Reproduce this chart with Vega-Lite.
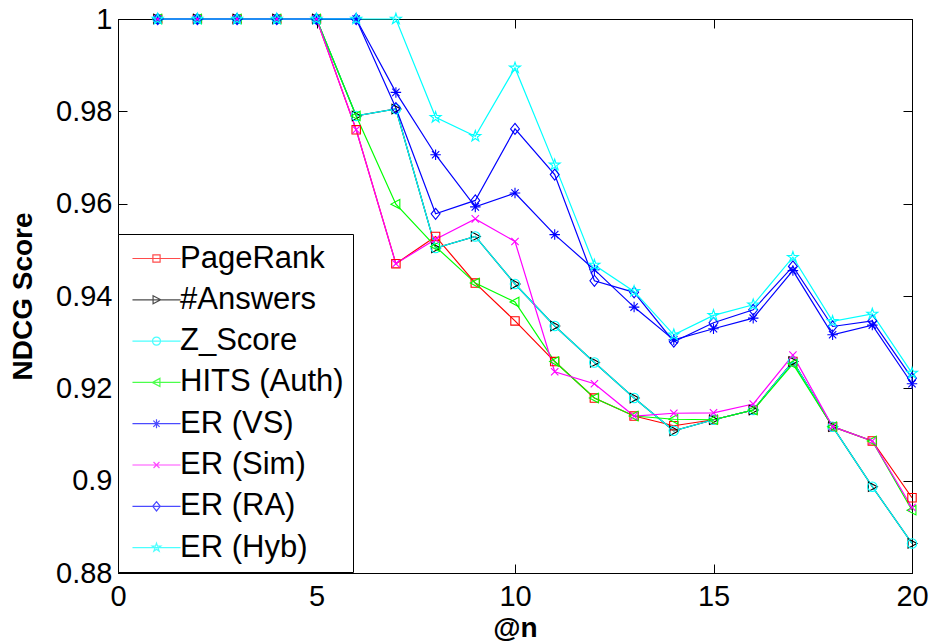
{
  "$schema": "https://vega.github.io/schema/vega-lite/v6.json",
  "autosize": "none",
  "width": 794,
  "height": 554,
  "padding": {"left": 118, "top": 19, "right": 21, "bottom": 69},
  "background": "white",
  "config": {
    "view": {"stroke": "black", "strokeWidth": 1},
    "font": "Liberation Sans",
    "axis": {
      "grid": false,
      "domainColor": "black",
      "domainWidth": 1,
      "tickColor": "black",
      "tickWidth": 1,
      "tickSize": -9,
      "labelFont": "Liberation Sans",
      "labelFontSize": 29,
      "labelColor": "black",
      "titleFont": "Liberation Sans",
      "titleFontSize": 28,
      "titleFontWeight": "bold",
      "titleColor": "black"
    }
  },
  "data": {"values": [
    {"n":1,"s":"PageRank","v":1},{"n":2,"s":"PageRank","v":1},{"n":3,"s":"PageRank","v":1},{"n":4,"s":"PageRank","v":1},{"n":5,"s":"PageRank","v":1},
    {"n":6,"s":"PageRank","v":0.976},{"n":7,"s":"PageRank","v":0.947},{"n":8,"s":"PageRank","v":0.9529},{"n":9,"s":"PageRank","v":0.9428},{"n":10,"s":"PageRank","v":0.9346},
    {"n":11,"s":"PageRank","v":0.9258},{"n":12,"s":"PageRank","v":0.9179},{"n":13,"s":"PageRank","v":0.914},{"n":14,"s":"PageRank","v":0.9119},{"n":15,"s":"PageRank","v":0.9132},
    {"n":16,"s":"PageRank","v":0.9153},{"n":17,"s":"PageRank","v":0.9258},{"n":18,"s":"PageRank","v":0.9117},{"n":19,"s":"PageRank","v":0.9086},{"n":20,"s":"PageRank","v":0.8963},

    {"n":1,"s":"#Answers","v":1},{"n":2,"s":"#Answers","v":1},{"n":3,"s":"#Answers","v":1},{"n":4,"s":"#Answers","v":1},{"n":5,"s":"#Answers","v":1},
    {"n":6,"s":"#Answers","v":0.979},{"n":7,"s":"#Answers","v":0.9805},{"n":8,"s":"#Answers","v":0.9504},{"n":9,"s":"#Answers","v":0.9529},{"n":10,"s":"#Answers","v":0.9426},
    {"n":11,"s":"#Answers","v":0.9335},{"n":12,"s":"#Answers","v":0.9256},{"n":13,"s":"#Answers","v":0.9179},{"n":14,"s":"#Answers","v":0.9108},{"n":15,"s":"#Answers","v":0.9132},
    {"n":16,"s":"#Answers","v":0.9153},{"n":17,"s":"#Answers","v":0.9258},{"n":18,"s":"#Answers","v":0.9117},{"n":19,"s":"#Answers","v":0.8987},{"n":20,"s":"#Answers","v":0.8864},

    {"n":1,"s":"Z_Score","v":1},{"n":2,"s":"Z_Score","v":1},{"n":3,"s":"Z_Score","v":1},{"n":4,"s":"Z_Score","v":1},{"n":5,"s":"Z_Score","v":1},
    {"n":6,"s":"Z_Score","v":0.979},{"n":7,"s":"Z_Score","v":0.9805},{"n":8,"s":"Z_Score","v":0.9504},{"n":9,"s":"Z_Score","v":0.9529},{"n":10,"s":"Z_Score","v":0.9426},
    {"n":11,"s":"Z_Score","v":0.9335},{"n":12,"s":"Z_Score","v":0.9256},{"n":13,"s":"Z_Score","v":0.9179},{"n":14,"s":"Z_Score","v":0.9108},{"n":15,"s":"Z_Score","v":0.9132},
    {"n":16,"s":"Z_Score","v":0.9153},{"n":17,"s":"Z_Score","v":0.9258},{"n":18,"s":"Z_Score","v":0.9117},{"n":19,"s":"Z_Score","v":0.8987},{"n":20,"s":"Z_Score","v":0.8864},

    {"n":1,"s":"HITS (Auth)","v":1},{"n":2,"s":"HITS (Auth)","v":1},{"n":3,"s":"HITS (Auth)","v":1},{"n":4,"s":"HITS (Auth)","v":1},{"n":5,"s":"HITS (Auth)","v":1},
    {"n":6,"s":"HITS (Auth)","v":0.979},{"n":7,"s":"HITS (Auth)","v":0.9599},{"n":8,"s":"HITS (Auth)","v":0.9507},{"n":9,"s":"HITS (Auth)","v":0.9428},{"n":10,"s":"HITS (Auth)","v":0.9387},
    {"n":11,"s":"HITS (Auth)","v":0.9258},{"n":12,"s":"HITS (Auth)","v":0.9179},{"n":13,"s":"HITS (Auth)","v":0.914},{"n":14,"s":"HITS (Auth)","v":0.9133},{"n":15,"s":"HITS (Auth)","v":0.9132},
    {"n":16,"s":"HITS (Auth)","v":0.9153},{"n":17,"s":"HITS (Auth)","v":0.9253},{"n":18,"s":"HITS (Auth)","v":0.9117},{"n":19,"s":"HITS (Auth)","v":0.9086},{"n":20,"s":"HITS (Auth)","v":0.8936},

    {"n":1,"s":"ER (VS)","v":1},{"n":2,"s":"ER (VS)","v":1},{"n":3,"s":"ER (VS)","v":1},{"n":4,"s":"ER (VS)","v":1},{"n":5,"s":"ER (VS)","v":1},
    {"n":6,"s":"ER (VS)","v":1},{"n":7,"s":"ER (VS)","v":0.9841},{"n":8,"s":"ER (VS)","v":0.9706},{"n":9,"s":"ER (VS)","v":0.9593},{"n":10,"s":"ER (VS)","v":0.9623},
    {"n":11,"s":"ER (VS)","v":0.9533},{"n":12,"s":"ER (VS)","v":0.9457},{"n":13,"s":"ER (VS)","v":0.9376},{"n":14,"s":"ER (VS)","v":0.9305},{"n":15,"s":"ER (VS)","v":0.9329},
    {"n":16,"s":"ER (VS)","v":0.9352},{"n":17,"s":"ER (VS)","v":0.9455},{"n":18,"s":"ER (VS)","v":0.9316},{"n":19,"s":"ER (VS)","v":0.9337},{"n":20,"s":"ER (VS)","v":0.921},

    {"n":1,"s":"ER (Sim)","v":1},{"n":2,"s":"ER (Sim)","v":1},{"n":3,"s":"ER (Sim)","v":1},{"n":4,"s":"ER (Sim)","v":1},{"n":5,"s":"ER (Sim)","v":1},
    {"n":6,"s":"ER (Sim)","v":0.976},{"n":7,"s":"ER (Sim)","v":0.947},{"n":8,"s":"ER (Sim)","v":0.9523},{"n":9,"s":"ER (Sim)","v":0.9567},{"n":10,"s":"ER (Sim)","v":0.9518},
    {"n":11,"s":"ER (Sim)","v":0.9236},{"n":12,"s":"ER (Sim)","v":0.921},{"n":13,"s":"ER (Sim)","v":0.914},{"n":14,"s":"ER (Sim)","v":0.9146},{"n":15,"s":"ER (Sim)","v":0.9147},
    {"n":16,"s":"ER (Sim)","v":0.9166},{"n":17,"s":"ER (Sim)","v":0.9272},{"n":18,"s":"ER (Sim)","v":0.9117},{"n":19,"s":"ER (Sim)","v":0.9086},{"n":20,"s":"ER (Sim)","v":0.8942},

    {"n":1,"s":"ER (RA)","v":1},{"n":2,"s":"ER (RA)","v":1},{"n":3,"s":"ER (RA)","v":1},{"n":4,"s":"ER (RA)","v":1},{"n":5,"s":"ER (RA)","v":1},
    {"n":6,"s":"ER (RA)","v":1},{"n":7,"s":"ER (RA)","v":0.9807},{"n":8,"s":"ER (RA)","v":0.9578},{"n":9,"s":"ER (RA)","v":0.9607},{"n":10,"s":"ER (RA)","v":0.9762},
    {"n":11,"s":"ER (RA)","v":0.9663},{"n":12,"s":"ER (RA)","v":0.9433},{"n":13,"s":"ER (RA)","v":0.9408},{"n":14,"s":"ER (RA)","v":0.9301},{"n":15,"s":"ER (RA)","v":0.9342},
    {"n":16,"s":"ER (RA)","v":0.937},{"n":17,"s":"ER (RA)","v":0.9464},{"n":18,"s":"ER (RA)","v":0.9334},{"n":19,"s":"ER (RA)","v":0.9346},{"n":20,"s":"ER (RA)","v":0.9222},

    {"n":1,"s":"ER (Hyb)","v":1},{"n":2,"s":"ER (Hyb)","v":1},{"n":3,"s":"ER (Hyb)","v":1},{"n":4,"s":"ER (Hyb)","v":1},{"n":5,"s":"ER (Hyb)","v":1},
    {"n":6,"s":"ER (Hyb)","v":1},{"n":7,"s":"ER (Hyb)","v":1},{"n":8,"s":"ER (Hyb)","v":0.9787},{"n":9,"s":"ER (Hyb)","v":0.9746},{"n":10,"s":"ER (Hyb)","v":0.9894},
    {"n":11,"s":"ER (Hyb)","v":0.9684},{"n":12,"s":"ER (Hyb)","v":0.9467},{"n":13,"s":"ER (Hyb)","v":0.941},{"n":14,"s":"ER (Hyb)","v":0.9316},{"n":15,"s":"ER (Hyb)","v":0.9358},
    {"n":16,"s":"ER (Hyb)","v":0.9381},{"n":17,"s":"ER (Hyb)","v":0.9484},{"n":18,"s":"ER (Hyb)","v":0.9345},{"n":19,"s":"ER (Hyb)","v":0.9361},{"n":20,"s":"ER (Hyb)","v":0.9233}
  ]},
  "resolve": {
    "scale": {"color": "independent", "shape": "independent"},
    "axis": {"x": "independent", "y": "independent"}
  },
  "layer": [
    {
      "mark": {"type": "line", "strokeWidth": 1.2},
      "encoding": {
        "x": {"field": "n", "type": "quantitative",
              "scale": {"domain": [0, 20], "nice": false, "zero": false},
              "axis": {"orient": "bottom", "values": [0, 5, 10, 15, 20], "title": "@n", "labelPadding": 18, "titlePadding": 3, "labelFlush": false}},
        "y": {"field": "v", "type": "quantitative",
              "scale": {"domain": [0.88, 1], "nice": false, "zero": false},
              "axis": {"orient": "left", "values": [0.88, 0.9, 0.92, 0.94, 0.96, 0.98, 1], "format": "~g", "title": "NDCG Score", "labelPadding": 15, "titlePadding": 18, "labelFlush": false}},
        "color": {"field": "s", "type": "nominal", "legend": null,
                  "scale": {"domain": ["PageRank", "#Answers", "Z_Score", "HITS (Auth)", "ER (VS)", "ER (Sim)", "ER (RA)", "ER (Hyb)"],
                            "range": ["#ff0000", "#000000", "#00ffff", "#00ff00", "#0000ff", "#ff00ff", "#0000ff", "#00ffff"]}},
        "order": {"field": "n", "type": "quantitative"}
      }
    },
    {
      "mark": {"type": "point", "filled": false, "size": 110, "strokeWidth": 1.1, "opacity": 1},
      "encoding": {
        "x": {"field": "n", "type": "quantitative",
              "scale": {"domain": [0, 20], "nice": false, "zero": false},
              "axis": {"orient": "top", "values": [0, 5, 10, 15, 20], "labels": false, "title": null}},
        "y": {"field": "v", "type": "quantitative",
              "scale": {"domain": [0.88, 1], "nice": false, "zero": false},
              "axis": {"orient": "right", "values": [0.88, 0.9, 0.92, 0.94, 0.96, 0.98, 1], "labels": false, "title": null}},
        "color": {"field": "s", "type": "nominal", "legend": null,
                  "scale": {"domain": ["PageRank", "#Answers", "Z_Score", "HITS (Auth)", "ER (VS)", "ER (Sim)", "ER (RA)", "ER (Hyb)"],
                            "range": ["#ff0000", "#000000", "#00ffff", "#00ff00", "#0000ff", "#ff00ff", "#0000ff", "#00ffff"]}},
        "shape": {"field": "s", "type": "nominal", "legend": null,
                  "scale": {"domain": ["PageRank", "#Answers", "Z_Score", "HITS (Auth)", "ER (VS)", "ER (Sim)", "ER (RA)", "ER (Hyb)"],
                            "range": [
                              "M-0.8,-0.8L0.8,-0.8L0.8,0.8L-0.8,0.8Z",
                              "M-0.75,-0.9L0.95,0L-0.75,0.9Z",
                              "M0.9,0A0.9,0.9,0,1,1,-0.9,0A0.9,0.9,0,1,1,0.9,0Z",
                              "M0.75,-0.9L-0.95,0L0.75,0.9Z",
                              "M-1,0L1,0M0,-1L0,1M-0.7,-0.7L0.7,0.7M-0.7,0.7L0.7,-0.7",
                              "M-0.7,-0.7L0.7,0.7M-0.7,0.7L0.7,-0.7",
                              "M0,-1.05L0.85,0L0,1.05L-0.85,0Z",
                              "M0,-1.1L0.247,-0.34L1.046,-0.34L0.399,0.13L0.647,0.89L0,0.42L-0.647,0.89L-0.399,0.13L-1.046,-0.34L-0.247,-0.34Z"
                            ]}}
      }
    },
    {
      "transform": [{"filter": "datum.n > 100"}],
      "mark": {"type": "point", "filled": false, "size": 324, "strokeWidth": 1},
      "encoding": {
        "x": {"field": "n", "type": "quantitative", "scale": {"domain": [0, 20], "nice": false, "zero": false}, "axis": null},
        "y": {"field": "v", "type": "quantitative", "scale": {"domain": [0.88, 1], "nice": false, "zero": false}, "axis": null},
        "color": {"field": "s", "type": "nominal",
                  "scale": {"domain": ["PageRank", "#Answers", "Z_Score", "HITS (Auth)", "ER (VS)", "ER (Sim)", "ER (RA)", "ER (Hyb)"],
                            "range": ["#ff0000", "#000000", "#00ffff", "#00ff00", "#0000ff", "#ff00ff", "#0000ff", "#00ffff"]},
                  "legend": {"orient": "none", "legendX": 0, "legendY": 215, "title": null,
                             "fillColor": "white", "strokeColor": "black", "padding": 9,
                             "labelFont": "Liberation Sans", "labelFontSize": 31, "labelColor": "black",
                             "rowPadding": 9.3, "symbolSize": 324, "symbolOffset": 14, "labelOffset": 8,
                             "symbolStrokeWidth": 1.2, "symbolFillColor": "transparent", "labelLimit": 400}},
        "shape": {"field": "s", "type": "nominal",
                  "scale": {"domain": ["PageRank", "#Answers", "Z_Score", "HITS (Auth)", "ER (VS)", "ER (Sim)", "ER (RA)", "ER (Hyb)"],
                            "range": [
                              "M-2.67,0L2.67,0M-0.4,-0.4L0.4,-0.4L0.4,0.4L-0.4,0.4Z",
                              "M-2.67,0L2.67,0M-0.38,-0.45L0.47,0L-0.38,0.45Z",
                              "M-2.67,0L2.67,0M0.45,0A0.45,0.45,0,1,1,-0.45,0A0.45,0.45,0,1,1,0.45,0Z",
                              "M-2.67,0L2.67,0M0.38,-0.45L-0.47,0L0.38,0.45Z",
                              "M-2.67,0L2.67,0M0,-0.5L0,0.5M-0.35,-0.35L0.35,0.35M-0.35,0.35L0.35,-0.35",
                              "M-2.67,0L2.67,0M-0.33,-0.33L0.33,0.33M-0.33,0.33L0.33,-0.33",
                              "M-2.67,0L2.67,0M0,-0.52L0.42,0L0,0.52L-0.42,0Z",
                              "M-2.67,0L2.67,0M0,-0.5L0.112,-0.155L0.476,-0.155L0.181,0.059L0.294,0.405L0,0.19L-0.294,0.405L-0.181,0.059L-0.476,-0.155L-0.112,-0.155Z"
                            ]},
                  "legend": {"orient": "none", "legendX": 0, "legendY": 215, "title": null,
                             "fillColor": "white", "strokeColor": "black", "padding": 9,
                             "labelFont": "Liberation Sans", "labelFontSize": 31, "labelColor": "black",
                             "rowPadding": 9.3, "symbolSize": 324, "symbolOffset": 14, "labelOffset": 8,
                             "symbolStrokeWidth": 1.2, "symbolFillColor": "transparent", "labelLimit": 400}}
      }
    }
  ]
}
